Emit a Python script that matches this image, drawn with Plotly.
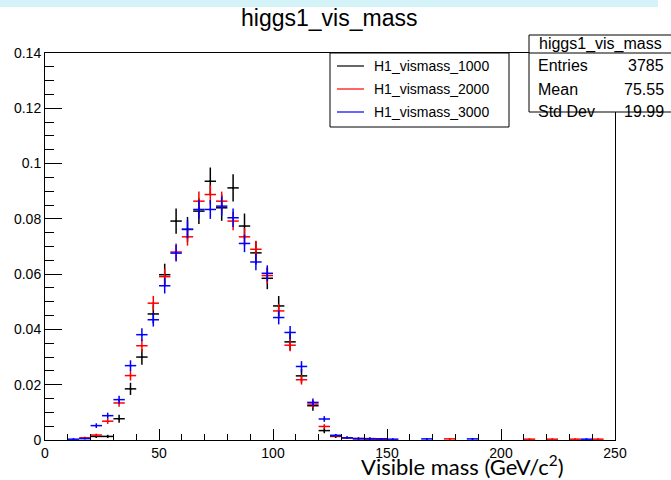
import math
import plotly.graph_objects as go

# ---------------- data ----------------
bin_width = 5.0
bin_centers = [2.5 + 5 * i for i in range(50)]

# normalized contents per bin (bin centre -> value); bins not listed are empty
h1000 = {22.5: 0.0013, 27.5: 0.0013, 32.5: 0.0077, 37.5: 0.0185, 42.5: 0.0300,
         47.5: 0.0456, 52.5: 0.0598, 57.5: 0.0792, 62.5: 0.0762, 67.5: 0.0828,
         72.5: 0.0936, 77.5: 0.0840, 82.5: 0.0912, 87.5: 0.0774, 92.5: 0.0677,
         97.5: 0.0585, 102.5: 0.0485, 107.5: 0.0355, 112.5: 0.0232, 117.5: 0.0124,
         122.5: 0.0034, 127.5: 0.0013, 132.5: 0.0008, 137.5: 0.0005, 142.5: 0.0005,
         147.5: 0.0003}
h2000 = {17.5: 0.0008, 22.5: 0.0018, 27.5: 0.0068, 32.5: 0.0134, 37.5: 0.0233,
         42.5: 0.0341, 47.5: 0.0495, 52.5: 0.0591, 57.5: 0.0680, 62.5: 0.0735,
         67.5: 0.0864, 72.5: 0.0888, 77.5: 0.0864, 82.5: 0.0792, 87.5: 0.0735,
         92.5: 0.0690, 97.5: 0.0595, 102.5: 0.0467, 107.5: 0.0343, 112.5: 0.0218,
         117.5: 0.0130, 122.5: 0.0049, 127.5: 0.0015, 132.5: 0.0008, 137.5: 0.0005,
         142.5: 0.0004, 147.5: 0.0003, 177.5: 0.0004, 212.5: 0.0003, 222.5: 0.0003,
         232.5: 0.0003, 242.5: 0.0003}
h3000 = {12.5: 0.0003, 17.5: 0.0005, 22.5: 0.0052, 27.5: 0.0088, 32.5: 0.0146,
         37.5: 0.0269, 42.5: 0.0381, 47.5: 0.0435, 52.5: 0.0558, 57.5: 0.0676,
         62.5: 0.0762, 67.5: 0.0834, 72.5: 0.0834, 77.5: 0.0846, 82.5: 0.0804,
         87.5: 0.0711, 92.5: 0.0644, 97.5: 0.0603, 102.5: 0.0443, 107.5: 0.0389,
         112.5: 0.0266, 117.5: 0.0136, 122.5: 0.0076, 127.5: 0.0017, 132.5: 0.0008,
         137.5: 0.0005, 142.5: 0.0004, 147.5: 0.0004, 152.5: 0.0003, 167.5: 0.0004,
         187.5: 0.0004, 237.5: 0.0003}

# number of raw entries behind each normalized histogram (sets error-bar size)
n_entries = {"H1_vismass_1000": 3785, "H1_vismass_2000": 7200, "H1_vismass_3000": 7200}

series = [("H1_vismass_1000", h1000, "#000000"),
          ("H1_vismass_2000", h2000, "#ff0000"),
          ("H1_vismass_3000", h3000, "#0000ff")]

x_ticks = [0, 50, 100, 150, 200, 250]
y_ticks = [0, 0.02, 0.04, 0.06, 0.08, 0.1, 0.12, 0.14]
y_tick_labels = ["0", "0.02", "0.04", "0.06", "0.08", "0.1", "0.12", "0.14"]

stats_title = "higgs1_vis_mass"
stats_rows = [("Entries", "3785"), ("Mean", "75.55"), ("Std Dev", "19.99")]

# ---------------- layout helpers ----------------
W, H = 671, 480
L, R, T, B = 45, 615, 53, 440
FONT = "Liberation Sans, Arial, Helvetica, sans-serif"


def px(xp):
    return (xp - L) / (R - L)


def py(yp):
    return (B - yp) / (B - T)


fig = go.Figure()

for name, h, col in series:
    xs = [c for c in bin_centers if h.get(c, 0) > 0]
    ys = [h[c] for c in xs]
    errs = [math.sqrt(v / n_entries[name]) for v in ys]
    fig.add_trace(go.Scatter(
        x=xs, y=ys, mode="markers", name=name,
        marker=dict(size=2, color=col),
        error_x=dict(type="data", array=[bin_width / 2] * len(xs), color=col,
                     thickness=1.5, width=0),
        error_y=dict(type="data", array=errs, color=col, thickness=1.5, width=0),
        showlegend=False, cliponaxis=True,
    ))

shapes = []
annotations = []

# light cyan band at the very top
shapes.append(dict(type="rect", xref="paper", yref="paper",
                   x0=px(0), x1=px(658), y0=py(7), y1=py(-2),
                   fillcolor="#d3f3f8", line=dict(width=0), layer="below"))

# title
annotations.append(dict(text="higgs1_vis_mass", xref="paper", yref="paper",
                        x=px(329), y=py(18), xanchor="center", yanchor="middle",
                        showarrow=False, font=dict(family=FONT, size=23, color="#000")))

# legend box
shapes.append(dict(type="rect", xref="paper", yref="paper",
                   x0=px(330), x1=px(509), y0=py(127), y1=py(53),
                   fillcolor="white", line=dict(color="black", width=1)))
leg_y = [66, 89, 112]
for (name, h, col), yy in zip(series, leg_y):
    shapes.append(dict(type="line", xref="paper", yref="paper",
                       x0=px(337), x1=px(364), y0=py(yy), y1=py(yy),
                       line=dict(color=col, width=1.2)))
    annotations.append(dict(text=name, xref="paper", yref="paper",
                            x=px(372), y=py(yy), xanchor="left", yanchor="middle",
                            showarrow=False, font=dict(family=FONT, size=14, color="#000")))

# stats box
shapes.append(dict(type="rect", xref="paper", yref="paper",
                   x0=px(529), x1=px(680), y0=py(112), y1=py(35),
                   fillcolor="white", line=dict(color="black", width=1)))
shapes.append(dict(type="line", xref="paper", yref="paper",
                   x0=px(529), x1=px(680), y0=py(53), y1=py(53),
                   line=dict(color="black", width=1)))
annotations.append(dict(text=stats_title, xref="paper", yref="paper",
                        x=px(600), y=py(44), xanchor="center", yanchor="middle",
                        showarrow=False, font=dict(family=FONT, size=16, color="#000")))
for (lab, val), yy in zip(stats_rows, [65, 89, 111]):
    annotations.append(dict(text=lab, xref="paper", yref="paper",
                            x=px(536), y=py(yy), xanchor="left", yanchor="middle",
                            showarrow=False, font=dict(family=FONT, size=16, color="#000")))
    annotations.append(dict(text=val, xref="paper", yref="paper",
                            x=px(666), y=py(yy), xanchor="right", yanchor="middle",
                            showarrow=False, font=dict(family=FONT, size=16, color="#000")))

# x axis title (overlay style)
annotations.append(dict(text="Visible mass (GeV/c<sup>2</sup>)", xref="paper", yref="paper",
                        x=px(566), y=py(465), xanchor="right", yanchor="middle",
                        showarrow=False, font=dict(family="Lato, Open Sans, sans-serif",
                                                   size=22, color="#000")))

fig.update_layout(
    width=W, height=H,
    margin=dict(l=L, r=W - R, t=T, b=H - B, pad=0),
    paper_bgcolor="white", plot_bgcolor="white",
    shapes=shapes, annotations=annotations,
    showlegend=False,
    font=dict(family=FONT, size=14, color="#000"),
)
fig.update_xaxes(
    range=[0, 250], tickvals=x_ticks, ticktext=[str(v) for v in x_ticks],
    ticks="inside", ticklen=11, tickcolor="black", tickwidth=1,
    minor=dict(dtick=10, tick0=0, ticks="inside", ticklen=6, tickcolor="black", showgrid=False),
    showline=True, linecolor="black", linewidth=1, mirror=True,
    showgrid=False, zeroline=False, tickfont=dict(family=FONT, size=14, color="#000"),
)
fig.update_yaxes(
    range=[0, 0.14], tickvals=y_ticks, ticktext=y_tick_labels,
    ticks="inside", ticklen=17, tickcolor="black", tickwidth=1,
    minor=dict(dtick=0.005, tick0=0, ticks="inside", ticklen=8.5, tickcolor="black", showgrid=False),
    showline=True, linecolor="black", linewidth=1, mirror=True,
    showgrid=False, zeroline=False, tickfont=dict(family=FONT, size=14, color="#000"),
)

fig.write_html("out.html")
